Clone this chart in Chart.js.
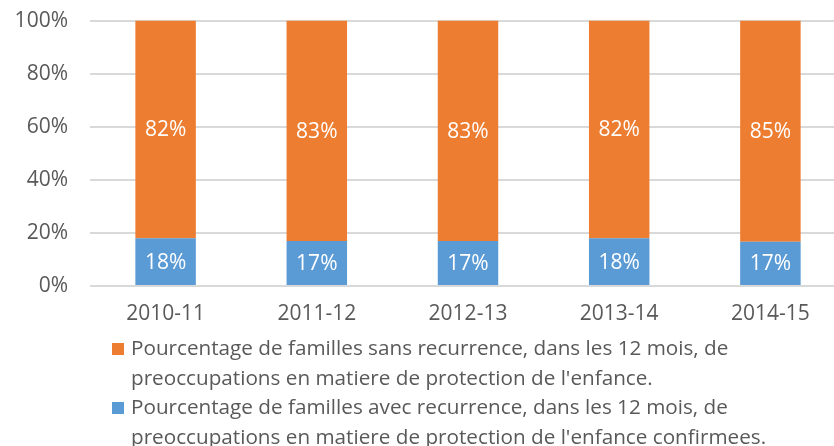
<!DOCTYPE html>
<html>
<head>
<meta charset="utf-8">
<script src="https://cdn.jsdelivr.net/npm/chart.js@4/dist/chart.umd.min.js"></script>
<style>
  html, body { margin: 0; padding: 0; background: #fff; }
  body { width: 834px; height: 446px; overflow: hidden; position: relative; font-family: "Open Sans", sans-serif; }
  #wrap { position: absolute; left: 0; top: -14px; width: 846px; height: 349px; }
  #legend { position: absolute; left: 112px; top: 333px; color: #595959; font-size: 20.7px; line-height: 29.5px; }
  .item { position: relative; padding-left: 19px; white-space: nowrap; }
  .swatch { position: absolute; left: 0; top: 10px; width: 12px; height: 12px; }
</style>
</head>
<body>
<div id="wrap"><canvas id="chart_recurrence"></canvas></div>
<div id="legend"></div>
<script>
// values (percent)
var categories = ['2010-11', '2011-12', '2012-13', '2013-14', '2014-15'];
var withRecurrence = [18, 17, 17, 18, 17];
var withoutRecurrence = [82, 83, 83, 82, 85];
var yTicks = [0, 20, 40, 60, 80, 100];

var labelWith = ['Pourcentage de familles avec recurrence, dans les 12 mois, de',
                 "preoccupations en matiere de protection de l'enfance confirmees."];
var labelWithout = ['Pourcentage de familles sans recurrence, dans les 12 mois, de',
                    "preoccupations en matiere de protection de l'enfance."];

var BLUE = '#5B9BD5', ORANGE = '#ED7D31', TEXT = '#595959', GRID = '#D9D9D9';

// 100% stacked, like the spreadsheet does it
function share(a, b) {
    return a.map(function(v, i) { return v / (v + b[i]) * 100; });
}

var segmentLabels = {
    id: 'segmentLabels',
    afterDatasetsDraw: function(chart) {
        var ctx = chart.ctx;
        ctx.save();
        ctx.fillStyle = '#fff';
        ctx.font = '21px "Open Sans"';
        ctx.textAlign = 'center';
        ctx.textBaseline = 'middle';
        chart.data.datasets.forEach(function(ds, d) {
            chart.getDatasetMeta(d).data.forEach(function(bar, i) {
                var p = bar.getProps(['x', 'y', 'base'], true);
                ctx.fillText(ds.raw[i] + '%', p.x, (p.y + p.base) / 2 + 1);
            });
        });
        ctx.restore();
    }
};

var chart_recurrence = new Chart(document.getElementById('chart_recurrence'), {
    type: 'bar',
    data: {
        labels: categories,
        datasets: [
            {
                label: labelWith.join(' '),
                data: share(withRecurrence, withoutRecurrence),
                raw: withRecurrence,
                backgroundColor: BLUE,
                barPercentage: 0.4,
                categoryPercentage: 1
            },
            {
                label: labelWithout.join(' '),
                data: share(withoutRecurrence, withRecurrence),
                raw: withoutRecurrence,
                backgroundColor: ORANGE,
                barPercentage: 0.4,
                categoryPercentage: 1
            }
        ]
    },
    options: {
        animation: false,
        responsive: true,
        maintainAspectRatio: false,
        layout: { padding: { top: 6, left: 0, right: 0, bottom: 0 } },
        plugins: {
            legend: { display: false },
            tooltip: { enabled: false }
        },
        scales: {
            x: {
                stacked: true,
                grid: { display: false },
                border: { display: false },
                ticks: { color: TEXT, font: { family: 'Open Sans', size: 21 }, padding: 7 },
                afterFit: function(scale) { scale.height = 49; }
            },
            y: {
                stacked: true,
                min: 0,
                max: 100,
                afterBuildTicks: function(scale) {
                    scale.ticks = yTicks.map(function(v) { return { value: v }; });
                },
                grid: { color: GRID, lineWidth: 2, drawTicks: false },
                border: { display: false },
                ticks: {
                    color: TEXT,
                    font: { family: 'Open Sans', size: 21 },
                    padding: 22,
                    callback: function(value) { return value + '%'; }
                },
                afterFit: function(scale) { scale.width = 90; }
            }
        }
    },
    plugins: [segmentLabels]
});

// legend: orange first, like the picture
var legendEl = document.getElementById('legend');
[[ORANGE, labelWithout], [BLUE, labelWith]].forEach(function(entry) {
    var div = document.createElement('div');
    div.className = 'item';
    var sw = document.createElement('span');
    sw.className = 'swatch';
    sw.style.background = entry[0];
    div.appendChild(sw);
    entry[1].forEach(function(line, k) {
        if (k) div.appendChild(document.createElement('br'));
        div.appendChild(document.createTextNode(line));
    });
    legendEl.appendChild(div);
});
</script>
</body>
</html>
